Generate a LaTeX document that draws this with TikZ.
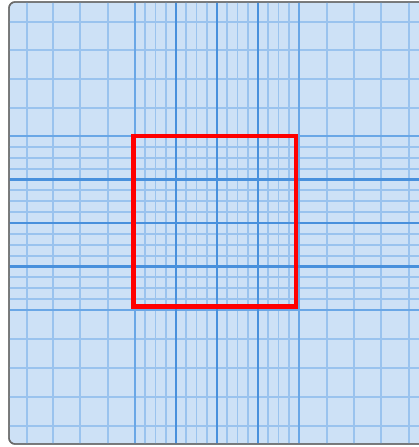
\documentclass[tikz,border=0pt]{standalone}
\usetikzlibrary{calc}
\definecolor{bgblue}{HTML}{CDE1F6}
\definecolor{thinblue}{HTML}{9AC3EE}
\definecolor{midblue}{HTML}{6AA7E6}
\definecolor{thickblue}{HTML}{4890DC}
\definecolor{framegray}{HTML}{6A6A6A}
\tikzset{
  thinline/.style={draw=thinblue, line width=1.8pt},
  midline/.style={draw=midblue, line width=2.2pt},
  thickline/.style={draw=thickblue, line width=2.6pt},
  framebox/.style={draw=framegray, fill=bgblue, line width=1.4pt, rounded corners=6pt},
  redbox/.style={draw=red, line width=4.6pt},
}
\begin{document}
\begin{tikzpicture}[x=1pt,y=-1pt]
\useasboundingbox (0,0) rectangle (419,447);
\begin{scope}
\clip (0,0) rectangle (419,447);
\path[framebox] (9,2) rectangle (430,444);
\clip[rounded corners=6pt] (9.7,2.7) rectangle (430,443.3);
% coarse vertical lines
\foreach \x in {27,53,80,108,327,354,381,409}
  \draw[thinline] (\x,2) -- (\x,444);
% coarse horizontal lines
\foreach \y in {22,50,79,108,339,368,397,426}
  \draw[thinline] (9,\y) -- (430,\y);
% fine vertical subdivisions
\foreach \k in {0,...,3}
  \foreach \j in {1,2,3}
    \draw[thinline] ({135+41*\k+10.25*\j},2) -- ({135+41*\k+10.25*\j},444);
% fine horizontal subdivisions
\foreach \k in {0,...,3}
  \foreach \j in {1,2,3}
    \draw[thinline] (9,{136+43.5*\k+10.875*\j}) -- (430,{136+43.5*\k+10.875*\j});
% fine region borders
\foreach \x in {135,299}
  \draw[midline] (\x,2) -- (\x,444);
\foreach \y in {136,310}
  \draw[midline] (9,\y) -- (430,\y);
% thick lines
\foreach \x in {176,217,258}
  \draw[thickline] (\x,2) -- (\x,444);
\foreach \y in {179.5,223,266.5}
  \draw[thickline] (9,\y) -- (430,\y);
\end{scope}
\path[draw=framegray, line width=1.4pt, rounded corners=6pt] (9,2) rectangle (430,444);
\draw[redbox] (133.5,136) rectangle (296,306.5);
\end{tikzpicture}
\end{document}
